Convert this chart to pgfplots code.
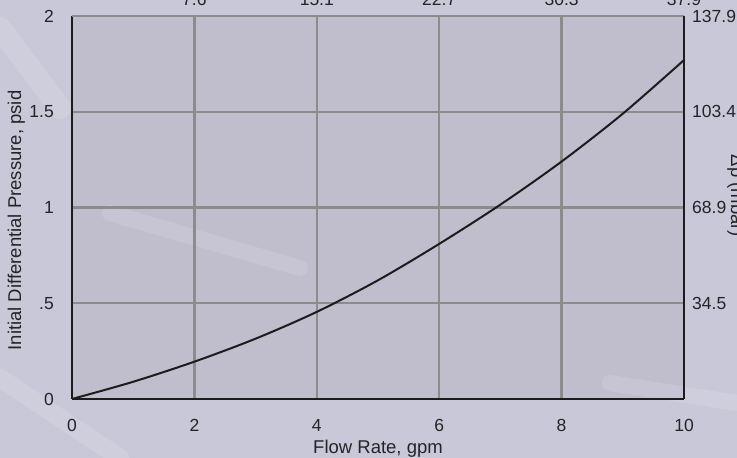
\documentclass[border=0pt]{standalone}
\usepackage{fontspec}
\setmainfont{Liberation Sans}
\usepackage{pgfplots}
\pgfplotsset{compat=1.18}

\definecolor{bgc}{RGB}{201,200,217}
\definecolor{plotbg}{RGB}{192,190,205}
\definecolor{gridc}{RGB}{140,140,143}
\definecolor{curvec}{RGB}{28,28,30}
\definecolor{labc}{RGB}{35,35,40}

\newcommand{\tickfont}{\fontsize{17.5bp}{20bp}\selectfont}
\newcommand{\lblfont}{\fontsize{18.5bp}{21bp}\selectfont}

\begin{document}
\begin{tikzpicture}[x=1bp,y=1bp]
% background (photo in the original, plain here)
\fill[bgc] (0,0) rectangle (737,458);
\fill[plotbg] (72,59) rectangle (684,442);
% a few very soft light streaks
\begin{scope}[white, line cap=round, opacity=0.12]
  \draw[line width=22bp] (0,430) -- (60,350);
  \draw[line width=16bp] (110,245) -- (300,190);
  \draw[line width=18bp] (0,80) -- (120,0);
  \draw[line width=16bp] (610,75) -- (737,55);
\end{scope}

% main axis: psid vs gpm
\begin{axis}[
    at={(72bp,59bp)}, anchor=south west,
    scale only axis, width=612bp, height=383bp,
    xmin=0, xmax=10, ymin=0, ymax=2,
    axis x line*=bottom, axis y line*=left,
    axis line style={draw=curvec, line width=2bp},
    xtick={0,2,4,6,8,10},
    ytick={0,0.5,1,1.5,2},
    yticklabels={0,.5,1,1.5,2},
    major tick length=0pt,
    grid=major,
    major grid style={draw=gridc, line width=2.4bp},
    /pgf/number format/assume math mode=true,
    tick label style={font=\tickfont, text=labc, inner sep=0pt},
    xticklabel style={anchor=center, yshift=-26bp},
    yticklabel style={anchor=east, xshift=-18bp},
    xlabel={Flow Rate, gpm},
    ylabel={Initial Differential Pressure, psid},
    every axis x label/.style={at={(axis description cs:0.5,-0.141)}, anchor=base, font=\lblfont, text=labc, inner sep=0pt},
    every axis y label/.style={at={(axis description cs:-0.0833,0.466)}, rotate=90, anchor=base, font=\lblfont, text=labc, inner sep=0pt},
]
\addplot[curvec, line width=2bp, smooth] coordinates {
    (0,0) (1,0.09) (2,0.195) (3,0.315) (4,0.455) (5,0.62)
    (6,0.81) (7,1.015) (8,1.24) (9,1.49) (10,1.77)
};
\end{axis}

% secondary scales: lpm on top, mbar on the right
\begin{axis}[
    at={(72bp,59bp)}, anchor=south west,
    scale only axis, width=612bp, height=383bp,
    xmin=0, xmax=10, ymin=0, ymax=2,
    axis x line*=top, axis y line*=right,
    x axis line style={draw=gridc, line width=2.4bp},
    y axis line style={draw=curvec, line width=2bp},
    xtick={2,4,6,8,10},
    xticklabels={7.6,15.1,22.7,30.3,37.9},
    ytick={0.5,1,1.5,2},
    yticklabels={34.5,68.9,103.4,137.9},
    major tick length=0pt,
    tick label style={font=\tickfont, text=labc, inner sep=0pt},
    xticklabel style={anchor=base, yshift=10bp},
    yticklabel style={anchor=west, xshift=8bp},
    ylabel={Δp (mbar)},
    every axis y label/.style={at={(axis description cs:1.0768,0.530)}, rotate=-90, anchor=base, font=\lblfont, text=labc, inner sep=0pt},
]
\end{axis}

\pgfresetboundingbox
\useasboundingbox (0,0) rectangle (737,458);
\end{tikzpicture}
\end{document}
